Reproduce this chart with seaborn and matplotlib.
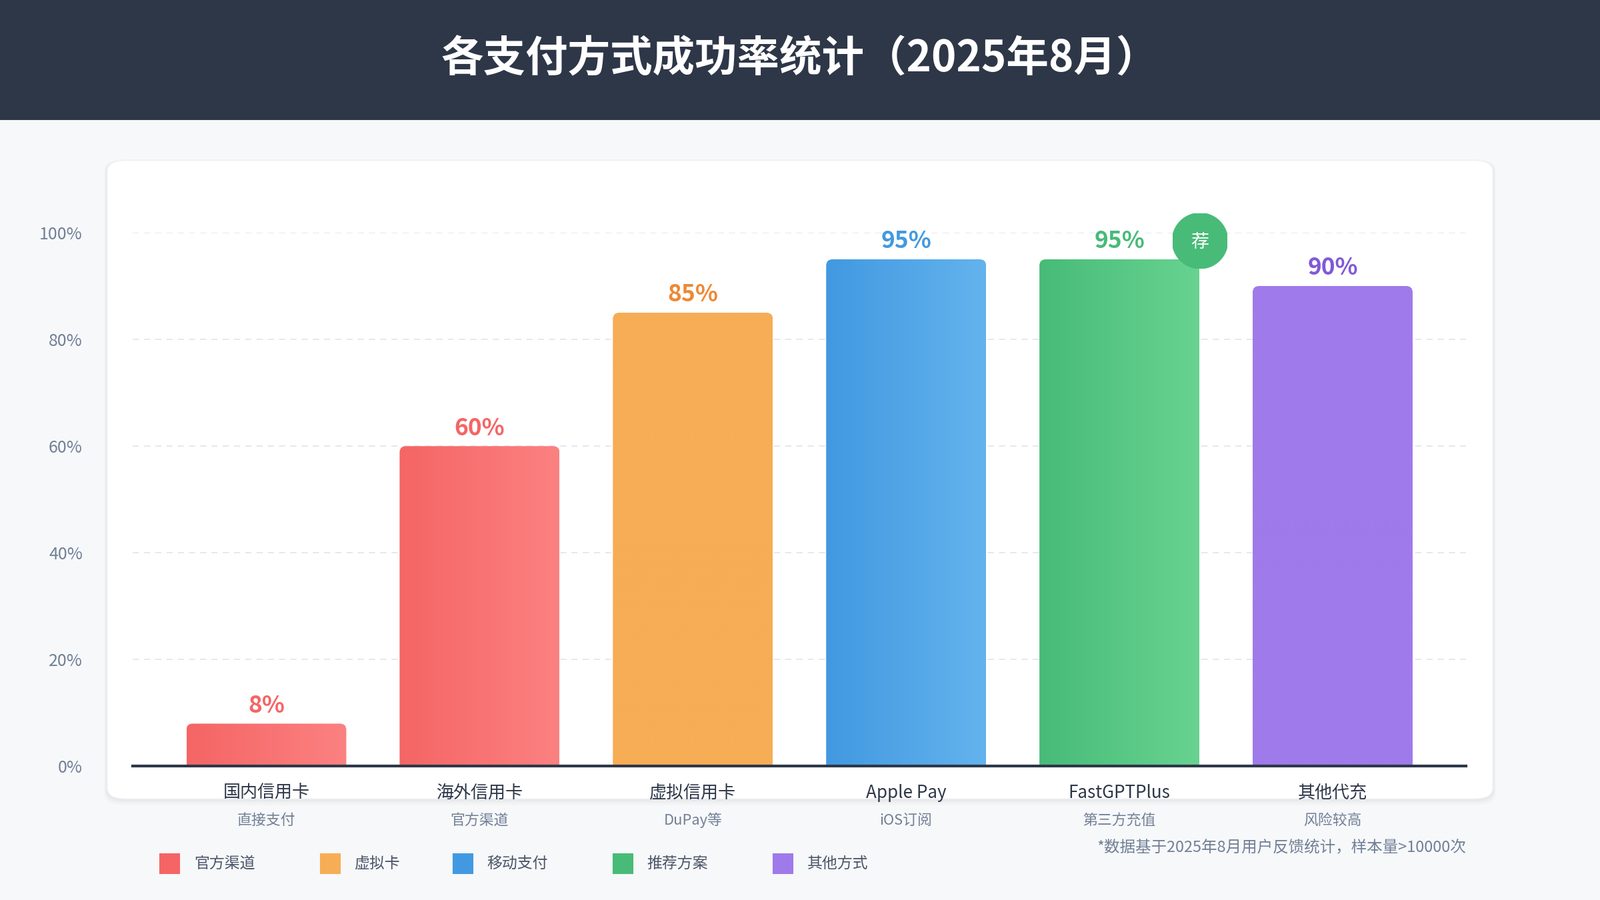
import matplotlib
matplotlib.use("Agg")
import matplotlib.pyplot as plt
from matplotlib import font_manager as fm
import seaborn as sns
import numpy as np
import pandas as pd
from matplotlib.patches import FancyBboxPatch, Rectangle, Circle
from matplotlib.colors import LinearSegmentedColormap
import glob, os

cands = [f for f in fm.findSystemFonts() if "CJK" in os.path.basename(f) and ("SC" in f or "cjk" in f.lower())]
cands += glob.glob("/usr/share/fonts/**/*CJK*", recursive=True)
fam = None
for f in cands:
    try:
        fm.fontManager.addfont(f)
        n = fm.FontProperties(fname=f).get_name()
        if "SC" in n or fam is None:
            fam = n
        if "SC" in n:
            break
    except Exception:
        pass
plt.rcParams["font.family"] = [fam or "Noto Sans CJK SC", "DejaVu Sans"]

categories = ["国内信用卡", "海外信用卡", "虚拟信用卡", "Apple Pay", "FastGPTPlus", "其他代充"]
subtitles = ["直接支付", "官方渠道", "DuPay等", "iOS订阅", "第三方充值", "风险较高"]
values = [8, 60, 85, 95, 95, 90]
yticks = [0, 20, 40, 60, 80, 100]
legend_labels = ["官方渠道", "虚拟卡", "移动支付", "推荐方案", "其他方式"]

grad = [("#f56565", "#fc8181"), ("#f56565", "#fc8181"), ("#f6ad55", "#f6ad55"),
        ("#4299e1", "#63b3ed"), ("#48bb78", "#68d391"), ("#9f7aea", "#9f7aea")]
label_colors = ["#f56565", "#f56565", "#ed8936", "#4299e1", "#48bb78", "#805ad5"]
legend_colors = ["#f56565", "#f6ad55", "#4299e1", "#48bb78", "#9f7aea"]

W, H = 1568, 882
fig = plt.figure(figsize=(16, 9), dpi=150)
fig.patch.set_facecolor("#f7f8fa")
def fx(x): return x / W
def fy(y): return 1 - y / H

# header
fig.add_artist(Rectangle((0, fy(117)), 1, 117 / H, transform=fig.transFigure, color="#2d3748", zorder=-2))
fig.text(0.5, fy(58), "各支付方式成功率统计（2025年8月）", ha="center", va="center",
         color="white", fontsize=30.5, fontweight="bold")

# card with soft shadow
for i, a in enumerate([0.03, 0.02, 0.015]):
    off = (i + 1) * 2
    fig.add_artist(FancyBboxPatch((fx(105 - off / 2), fy(783 + off)), fx(1358 + off), (626 + off) / H,
                                  boxstyle="round,pad=0,rounding_size=0.012", transform=fig.transFigure,
                                  fc=(0, 0, 0, a), ec="none", zorder=-2))
fig.add_artist(FancyBboxPatch((fx(105), fy(783)), fx(1358), 626 / H,
                              boxstyle="round,pad=0,rounding_size=0.012", transform=fig.transFigure,
                              fc="white", ec="#edf0f4", lw=0.8, zorder=-1))

ax = fig.add_axes([fx(130), fy(751), fx(1437 - 130), (751 - 228) / H])
ax.set_zorder(2)
ax.set_facecolor("none")
df = pd.DataFrame({"cat": categories, "val": values})
sns.barplot(data=df, x="cat", y="val", ax=ax, width=0.75, color="white", edgecolor="none", zorder=2)
xlim = (-131 / 209, 5 + 131 / 209)
ax.set_xlim(*xlim)
ax.set_ylim(0, 100)

for i, p in enumerate(list(ax.patches)):
    x0, w, h = p.get_x(), p.get_width(), p.get_height()
    cmap = LinearSegmentedColormap.from_list("g", grad[i])
    im = ax.imshow(np.linspace(0, 1, 256).reshape(1, -1), cmap=cmap, aspect="auto",
                   extent=(x0, x0 + w, 0, h), zorder=3)
    clip = FancyBboxPatch((x0, -5), w, h + 5, boxstyle="round,pad=0,rounding_size=0.03",
                          mutation_aspect=40, transform=ax.transData, fc="none", ec="none")
    ax.add_patch(clip)
    im.set_clip_path(clip)
    ax.text(x0 + w / 2, h + 1.2, f"{values[i]}%", ha="center", va="bottom", color=label_colors[i],
            fontsize=17, fontweight="bold", zorder=5, clip_on=False)
ax.set_xlim(*xlim)
ax.set_ylim(0, 100)

ax.grid(axis="y", color="#e2e8f0", ls=(0, (5, 4)), lw=0.9, zorder=0)
ax.set_axisbelow(True)
for s in ["top", "right", "left"]:
    ax.spines[s].set_visible(False)
ax.spines["bottom"].set_color("#2d3748")
ax.spines["bottom"].set_linewidth(2)
ax.spines["bottom"].set_zorder(6)
ax.set_yticks(yticks)
ax.set_yticklabels([f"{t}%" for t in yticks], color="#718096", fontsize=12)
ax.tick_params(axis="y", length=0, pad=36)
ax.set_xticks(range(6))
ax.set_xticklabels([])
ax.tick_params(axis="x", length=0)
ax.set_xlabel(""); ax.set_ylabel("")

# category labels
centers = [261, 470, 679, 888, 1097, 1306]
for c, n, s in zip(centers, categories, subtitles):
    fig.text(fx(c), fy(777), n, ha="center", va="center", fontsize=12.5, color="#2d3748")
    fig.text(fx(c), fy(804), s, ha="center", va="center", fontsize=10.5, color="#718096")

# badge
bx, by = 1176, 236
badge_ax = fig.add_axes([fx(bx - 27), fy(by + 27), fx(54), 54 / H])
badge_ax.set_zorder(3)
badge_ax.set_xlim(-1, 1); badge_ax.set_ylim(-1, 1); badge_ax.axis("off")
badge_ax.set_aspect("equal")
badge_ax.add_patch(Circle((0, 0), 1, color="#48bb78"))
badge_ax.text(0, -0.05, "荐", ha="center", va="center", color="white", fontsize=13)

# legend
lx = [157, 314, 444, 601, 758]
for x, lab, col in zip(lx, legend_labels, legend_colors):
    fig.add_artist(Rectangle((fx(x), fy(856)), fx(19), 19 / H, transform=fig.transFigure, color=col))
    fig.text(fx(x + 33), fy(846), lab, ha="left", va="center", fontsize=11, color="#4a5568")

fig.text(fx(1437), fy(830), "*数据基于2025年8月用户反馈统计，样本量>10000次", ha="right", va="center",
         fontsize=11.3, color="#718096")

fig.savefig("out.png", dpi=150, facecolor=fig.get_facecolor())
